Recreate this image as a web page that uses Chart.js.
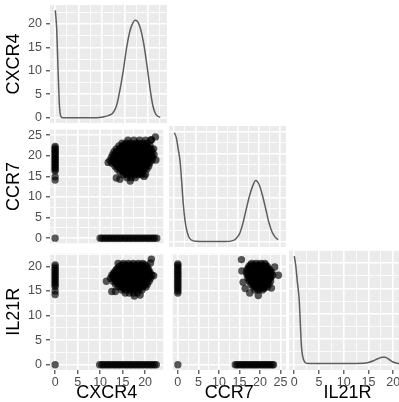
<!DOCTYPE html>
<html lang="en">
<head>
<meta charset="UTF-8">
<title>Pairs plot</title>
<script src="https://cdn.jsdelivr.net/npm/chart.js"></script>
<style>
  html, body { margin: 0; padding: 0; background: #fff; overflow: hidden; }
  body { width: 399px; height: 402px; position: relative; }
  canvas { position: absolute; }
</style>
</head>
<body>
<canvas id="p11" width="167" height="118" style="left:0;top:5px"></canvas>
<canvas id="p21" width="167" height="121" style="left:0;top:126px"></canvas>
<canvas id="p31" width="167" height="152" style="left:0;top:250px"></canvas>
<canvas id="p22" width="125" height="121" style="left:169px;top:126px"></canvas>
<canvas id="p32" width="125" height="152" style="left:169px;top:250px"></canvas>
<canvas id="p33" width="117" height="152" style="left:289px;top:250px"></canvas>

<script>
// variables and their axis limits
const variables = ['CXCR4', 'CCR7', 'IL21R'];
const limits = { CXCR4: [-1.14, 24.05], CCR7: [-1.25, 26.35], IL21R: [-1.07, 22.6] };
const majorTicks = { CXCR4: [0, 5, 10, 15, 20], CCR7: [0, 5, 10, 15, 20, 25], IL21R: [0, 5, 10, 15, 20] };
const minorTicks = { CXCR4: [2.5, 7.5, 12.5, 17.5, 22.5], CCR7: [2.5, 7.5, 12.5, 17.5, 22.5], IL21R: [2.5, 7.5, 12.5, 17.5, 22.5] };

// densities on the diagonal (scaled to the axis)
const cxcr4DensX = [0, 0.3, 0.6, 0.9, 1.2, 1.6, 4, 8, 9.5, 10.5, 11.5, 12.4, 13.2, 13.8, 14.6, 15.3, 16.0, 16.5, 17.2, 17.8, 18.4, 19.0, 19.5, 20.0, 20.5, 21.0, 21.5, 22.0, 22.6];
const cxcr4DensY = [22.9, 19, 10, 2.5, 0.3, 0, 0, 0, 0.05, 0.2, 0.5, 1.0, 2.6, 5.3, 9.8, 14.6, 18.2, 19.8, 20.8, 20.4, 18.8, 16.0, 12.8, 9.2, 5.5, 2.6, 1.0, 0.35, 0.1];
const ccr7DensX = [0, 0.5, 0.95, 1.35, 1.75, 2.1, 2.5, 2.9, 3.4, 4.1, 5, 8, 12, 13.8, 14.6, 15.4, 16.2, 17.0, 17.8, 18.5, 19.2, 20.0, 20.8, 21.6, 22.3, 23.1, 23.8, 24.5];
const ccr7DensY = [24.8, 23.6, 20.9, 18.4, 13.5, 8.8, 5.0, 2.7, 1.1, 0.3, 0.05, 0, 0, 0.2, 0.7, 1.8, 4.2, 7.5, 10.6, 12.7, 13.9, 13.0, 10.5, 7.3, 4.4, 2.1, 1.0, 0.45];
const il21rDensX = [0, 0.3, 0.6, 1.0, 1.25, 1.45, 1.7, 2.1, 2.8, 6, 10, 14, 15, 16, 17, 17.8, 18.4, 19.2, 20, 20.8, 21.6];
const il21rDensY = [21.4, 19.5, 16.5, 12.7, 7.5, 3.6, 1.6, 0.5, 0.2, 0.2, 0.2, 0.25, 0.4, 0.75, 1.2, 1.45, 1.45, 1.0, 0.5, 0.25, 0.15];

// scatter: CCR7 (y) vs CXCR4 (x), rows of [y, x values]
const ccr7Cxcr4Blob = [
  [23.8, [16.2, 17.5, 18.8, 20.1, 21.3]],
  [23.1, [14.9, 15.8, 16.7, 17.9, 18.6, 19.7, 20.5]],
  [22.75, [15.5, 16.4, 17.3, 18.2, 19.1, 20.0]],
  [22.4, [14.2, 15.1, 16.0, 16.9, 17.6, 18.5, 19.4, 20.3, 21.1]],
  [22.05, [14.7, 15.6, 16.5, 17.3, 18.1, 19.0, 19.9, 20.7]],
  [21.7, [13.6, 14.5, 15.3, 16.2, 17.0, 17.9, 18.7, 19.6, 20.4, 21.3, 21.9]],
  [21.35, [14.2, 15.0, 15.8, 16.7, 17.5, 18.4, 19.2, 20.0, 20.9]],
  [21.0, [13.1, 14.0, 14.8, 15.7, 16.5, 17.4, 18.2, 19.1, 19.9, 20.8, 21.6]],
  [20.65, [13.5, 14.3, 15.2, 16.0, 16.9, 17.7, 18.6, 19.4, 20.2, 21.1]],
  [20.3, [12.8, 13.6, 14.4, 15.3, 16.1, 17.0, 17.8, 18.6, 19.5, 20.3, 21.2, 22.0]],
  [19.95, [13.2, 14.0, 14.8, 15.7, 16.5, 17.4, 18.2, 19.0, 19.9, 20.7, 21.4]],
  [19.6, [12.5, 13.3, 14.2, 15.0, 15.9, 16.7, 17.5, 18.4, 19.2, 20.1, 20.9, 21.7]],
  [19.25, [12.9, 13.7, 14.6, 15.4, 16.3, 17.1, 17.9, 18.8, 19.6, 20.4, 21.2]],
  [18.9, [12.2, 13.1, 13.9, 14.8, 15.6, 16.4, 17.3, 18.1, 19.0, 19.8, 20.6, 21.5]],
  [18.55, [13.0, 13.9, 14.7, 15.6, 16.4, 17.3, 18.1, 19.0, 19.8, 20.6]],
  [18.2, [12.6, 13.5, 14.3, 15.2, 16.0, 16.9, 17.7, 18.5, 19.4, 20.2, 21.0]],
  [17.85, [13.6, 14.5, 15.3, 16.2, 17.0, 17.9, 18.7, 19.6, 20.4]],
  [17.5, [13.3, 14.1, 15.0, 15.8, 16.6, 17.5, 18.3, 19.2, 20.0, 20.8]],
  [17.15, [14.2, 15.1, 15.9, 16.8, 17.6, 18.5, 19.3, 20.1]],
  [16.8, [13.8, 14.7, 15.5, 16.4, 17.2, 18.0, 18.9, 19.7, 20.4]],
  [16.45, [14.9, 15.7, 16.6, 17.4, 18.3, 19.1]],
  [16.1, [14.4, 15.3, 16.1, 17.0, 17.8, 18.7, 19.5]],
  [15.75, [15.6, 16.4, 17.3, 18.1, 18.9]],
  [15.4, [15.1, 16.0, 16.8, 17.6, 18.5, 19.2]],
  [14.7, [16.0, 16.9, 17.8]]
];
const ccr7Cxcr4Outliers = [[11.8, 18.4], [13.6, 14.6], [14.4, 14.3], [16.7, 13.9], [20.1, 15.5], [21.4, 23.9], [22.3, 24.6], [22.4, 19.0], [19.8, 15.0]];
const ccr7AtCxcr4Zero = [14.1, 14.9, 16.3, 16.7, 17.1, 17.5, 17.9, 18.3, 18.7, 19.1, 19.5, 19.9, 20.3, 20.7, 21.1, 21.5, 21.9, 22.3];
const cxcr4AtCcr7Zero = [10.0, 10.4, 10.9, 11.3, 11.8, 12.2, 12.7, 13.1, 13.6, 14.0, 14.5, 14.9, 15.4, 15.8, 16.3, 16.7, 17.2, 17.6, 18.1, 18.5, 19.0, 19.4, 19.9, 20.3, 20.8, 21.2, 21.7, 22.1, 22.6];

// scatter: IL21R (y) vs CXCR4 (x)
const il21rCxcr4Blob = [
  [20.6, [15.2, 16.3, 17.4, 18.5, 19.5]],
  [20.3, [14.8, 15.7, 16.6, 17.5, 18.4, 19.3, 20.0]],
  [20.0, [14.3, 15.2, 16.1, 17.0, 17.9, 18.8, 19.7, 20.5]],
  [19.7, [14.0, 14.9, 15.8, 16.7, 17.6, 18.5, 19.4, 20.2]],
  [19.4, [13.6, 14.5, 15.4, 16.3, 17.2, 18.1, 19.0, 19.9, 20.8]],
  [19.1, [13.5, 14.4, 15.3, 16.2, 17.1, 18.0, 18.9, 19.8, 20.7]],
  [18.8, [13.1, 14.0, 14.9, 15.8, 16.7, 17.6, 18.5, 19.4, 20.3, 21.1]],
  [18.5, [13.0, 13.9, 14.8, 15.7, 16.6, 17.5, 18.4, 19.3, 20.2, 21.0]],
  [18.2, [12.6, 13.5, 14.4, 15.3, 16.2, 17.1, 18.0, 18.9, 19.8, 20.7, 21.5]],
  [17.9, [12.8, 13.7, 14.6, 15.5, 16.4, 17.3, 18.2, 19.1, 20.0, 20.9]],
  [17.6, [12.3, 13.2, 14.1, 15.0, 15.9, 16.8, 17.7, 18.6, 19.5, 20.4, 21.2]],
  [17.3, [13.3, 14.2, 15.1, 16.0, 16.9, 17.8, 18.7, 19.6, 20.5]],
  [17.0, [12.9, 13.8, 14.7, 15.6, 16.5, 17.4, 18.3, 19.2, 20.1, 20.9]],
  [16.7, [13.8, 14.7, 15.6, 16.5, 17.4, 18.3, 19.2, 20.1]],
  [16.4, [13.4, 14.3, 15.2, 16.1, 17.0, 17.9, 18.8, 19.7, 20.5]],
  [16.1, [14.4, 15.3, 16.2, 17.1, 18.0, 18.9, 19.8]],
  [15.8, [14.0, 14.9, 15.8, 16.7, 17.6, 18.5, 19.4, 20.2]],
  [15.5, [15.2, 16.1, 17.0, 17.9, 18.8]],
  [15.2, [14.8, 15.7, 16.6, 17.5, 18.4, 19.3]],
  [14.6, [15.6, 16.5, 17.4, 18.3]]
];
const il21rCxcr4Outliers = [[11.4, 17.0], [12.6, 14.9], [13.4, 14.9], [17.6, 14.0], [21.4, 21.5], [21.2, 20.7], [21.9, 18.1], [18.9, 14.2], [14.0, 20.6]];
const il21rAtCxcr4Zero = [14.3, 15.0, 15.9, 16.3, 16.7, 17.1, 17.5, 17.9, 18.3, 18.7, 19.1, 19.5, 19.9, 20.3];
const cxcr4AtIl21rZero = [9.9, 10.4, 10.8, 11.3, 11.7, 12.2, 12.6, 13.1, 13.5, 14.0, 14.4, 14.9, 15.3, 15.8, 16.2, 16.7, 17.1, 17.6, 18.0, 18.5, 18.9, 19.4, 19.8, 20.3, 20.7, 21.2, 21.6, 22.1, 22.5];

// scatter: IL21R (y) vs CCR7 (x)
const il21rCcr7Blob = [
  [20.6, [18.0, 19.1, 20.2, 21.2]],
  [20.3, [17.7, 18.6, 19.5, 20.4, 21.3]],
  [20.0, [17.3, 18.2, 19.1, 20.0, 20.9, 21.8]],
  [19.7, [17.3, 18.2, 19.1, 20.0, 20.9, 21.8]],
  [19.4, [16.9, 17.8, 18.7, 19.6, 20.5, 21.4, 22.3]],
  [19.1, [17.2, 18.1, 19.0, 19.9, 20.8, 21.7, 22.5]],
  [18.8, [16.7, 17.6, 18.5, 19.4, 20.3, 21.2, 22.1, 22.9]],
  [18.5, [17.2, 18.1, 19.0, 19.9, 20.8, 21.7, 22.6]],
  [18.2, [16.9, 17.8, 18.7, 19.6, 20.5, 21.4, 22.3, 23.1]],
  [17.9, [17.4, 18.3, 19.2, 20.1, 21.0, 21.9, 22.7]],
  [17.6, [17.1, 18.0, 18.9, 19.8, 20.7, 21.6, 22.5]],
  [17.3, [17.6, 18.5, 19.4, 20.3, 21.2, 22.1]],
  [17.0, [17.4, 18.3, 19.2, 20.1, 21.0, 21.9, 22.6]],
  [16.7, [18.1, 19.0, 19.9, 20.8, 21.7]],
  [16.4, [17.8, 18.7, 19.6, 20.5, 21.4, 22.2]],
  [16.1, [18.6, 19.5, 20.4, 21.3]],
  [15.8, [18.3, 19.2, 20.1, 21.0, 21.8]],
  [15.5, [19.2, 20.1, 21.0]],
  [15.2, [18.8, 19.7, 20.6]]
];
const il21rCcr7Outliers = [[15.5, 21.4], [15.6, 19.1], [15.9, 16.8], [17.5, 14.6], [19.6, 14.1], [24.5, 18.2], [23.6, 19.9], [22.8, 15.6], [16.4, 15.5]];
const il21rAtCcr7Zero = [14.6, 15.0, 15.4, 15.8, 16.2, 16.6, 17.0, 17.4, 17.8, 18.2, 18.6, 19.0, 19.4, 19.8, 20.2, 20.5];
const ccr7AtIl21rZero = [14.0, 14.4, 14.9, 15.3, 15.8, 16.2, 16.7, 17.1, 17.6, 18.0, 18.5, 18.9, 19.4, 19.8, 20.3, 20.7, 21.2, 21.6, 22.1, 22.5, 23.0, 23.3];

Chart.defaults.font.family = "'Liberation Sans', Arial, sans-serif";

// gray panel background like ggplot
const panelBg = {
  id: 'panelBg',
  beforeDraw(chart) {
    const { ctx, chartArea: a } = chart;
    ctx.save();
    ctx.fillStyle = '#EBEBEB';
    ctx.fillRect(a.left, a.top, a.width, a.height);
    ctx.restore();
  }
};

function toPoints(xs, ys) {
  return xs.map((x, i) => ({ x: x, y: ys[i] }));
}

function blobPoints(rows, outliers) {
  const pts = [];
  rows.forEach(function (r) {
    r[1].forEach(function (x) { pts.push({ x: x, y: r[0] }); });
  });
  outliers.forEach(function (p) { pts.push({ x: p[0], y: p[1] }); });
  return pts;
}

function axis(name, dir, show) {
  const major = majorTicks[name];
  const all = major.concat(minorTicks[name]).sort((a, b) => a - b);
  const isMajor = v => major.includes(v);
  return {
    type: 'linear',
    position: dir === 'x' ? 'bottom' : 'left',
    min: limits[name][0],
    max: limits[name][1],
    border: { display: false },
    grid: {
      color: '#FFFFFF',
      lineWidth: c => isMajor(c.tick.value) ? 1.6 : 0.8,
      drawTicks: show,
      tickLength: 4,
      tickWidth: 1.1,
      tickColor: c => isMajor(c.tick.value) ? '#333333' : 'rgba(0,0,0,0)'
    },
    ticks: {
      display: show,
      autoSkip: false,
      maxRotation: 0,
      color: '#4D4D4D',
      font: { size: 12.5, lineHeight: 1.2 },
      padding: dir === 'x' ? 1 : 4,
      callback: v => isMajor(v) ? String(v) : ''
    },
    title: {
      display: show,
      text: name,
      color: '#000000',
      font: { size: 18, lineHeight: 1 },
      padding: dir === 'x' ? { top: 0, bottom: 0 } : { top: 5.5, bottom: 0 }
    },
    afterBuildTicks: s => { s.ticks = all.map(v => ({ value: v })); },
    afterFit: s => {
      if (dir === 'x') s.height = show ? 32 : 0;
      else s.width = show ? 50 : 0;
      s.paddingTop = 0; s.paddingBottom = 0; s.paddingLeft = 0; s.paddingRight = 0;
    }
  };
}

function pointSet(pts) {
  return {
    data: pts,
    pointRadius: 3.7,
    backgroundColor: 'rgba(0,0,0,0.65)',
    borderWidth: 0,
    pointHoverRadius: 0
  };
}

function densitySet(pts) {
  return {
    data: pts,
    showLine: true,
    fill: false,
    borderColor: '#5E5E5E',
    borderWidth: 1.5,
    pointRadius: 0,
    cubicInterpolationMode: 'monotone'
  };
}

function panel(id, xName, yName, datasets, showX, showY, padRight) {
  new Chart(document.getElementById(id), {
    type: 'scatter',
    data: { datasets: datasets },
    options: {
      responsive: false,
      animation: false,
      events: [],
      layout: { padding: { left: 0, top: 0, bottom: 0, right: padRight || 0 } },
      plugins: { legend: { display: false }, tooltip: { enabled: false } },
      scales: { x: axis(xName, 'x', showX), y: axis(yName, 'y', showY) }
    },
    plugins: [panelBg]
  });
}

const origin = [{ x: 0, y: 0 }];

panel('p11', 'CXCR4', 'CXCR4', [densitySet(toPoints(cxcr4DensX, cxcr4DensY))], false, true);

panel('p21', 'CXCR4', 'CCR7', [
  pointSet(ccr7AtCxcr4Zero.map(y => ({ x: 0, y: y }))),
  pointSet(cxcr4AtCcr7Zero.map(x => ({ x: x, y: 0 }))),
  pointSet(origin),
  pointSet(blobPoints(ccr7Cxcr4Blob, ccr7Cxcr4Outliers))
], false, true);

panel('p31', 'CXCR4', 'IL21R', [
  pointSet(il21rAtCxcr4Zero.map(y => ({ x: 0, y: y }))),
  pointSet(cxcr4AtIl21rZero.map(x => ({ x: x, y: 0 }))),
  pointSet(origin),
  pointSet(blobPoints(il21rCxcr4Blob, il21rCxcr4Outliers))
], true, true);

panel('p22', 'CCR7', 'CCR7', [densitySet(toPoints(ccr7DensX, ccr7DensY))], false, false, 8);

panel('p32', 'CCR7', 'IL21R', [
  pointSet(il21rAtCcr7Zero.map(y => ({ x: 0, y: y }))),
  pointSet(ccr7AtIl21rZero.map(x => ({ x: x, y: 0 }))),
  pointSet(origin),
  pointSet(blobPoints(il21rCcr7Blob, il21rCcr7Outliers))
], true, false, 8);

panel('p33', 'IL21R', 'IL21R', [densitySet(toPoints(il21rDensX, il21rDensY))], true, false);
</script>
</body>
</html>
